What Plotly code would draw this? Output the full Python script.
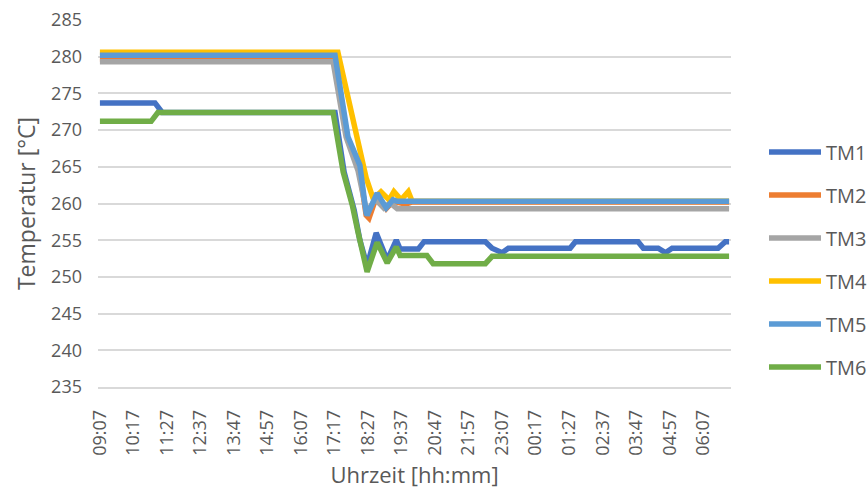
import plotly.graph_objects as go

# Category labels shown on the time axis (every 70 minutes)
tick_labels = ["09:07", "10:17", "11:27", "12:37", "13:47", "14:57", "16:07",
               "17:17", "18:27", "19:37", "20:47", "21:57", "23:07", "00:17",
               "01:27", "02:37", "03:47", "04:57", "06:07"]

series_names = ["TM1", "TM2", "TM3", "TM4", "TM5", "TM6"]
series_colors = ["#4472C4", "#ED7D31", "#A5A5A5", "#FFC000", "#5B9BD5", "#70AD47"]

# Measured temperatures (time of day, °C); the run goes past midnight
tm1_time = ["09:07", "11:02", "11:17", "17:18", "17:37", "17:58", "18:10", "18:25",
            "18:44", "19:07", "19:26", "19:34", "20:12", "20:24", "22:32", "22:46",
            "23:07", "23:20", "01:29", "01:40", "03:51", "04:02", "04:33", "04:48",
            "05:02", "06:38", "06:53", "07:01"]
tm1_temp = [273.7, 273.7, 272.4, 272.4, 264.3, 259.1, 255.0, 251.5,
            256.0, 252.3, 255.0, 253.8, 253.8, 254.8, 254.8, 253.9,
            253.3, 253.9, 253.9, 254.8, 254.8, 253.9, 253.9, 253.3,
            253.9, 253.9, 254.8, 254.8]

tm2_time = ["09:07", "17:16", "17:43", "18:08", "18:23", "18:29", "18:46", "19:05",
            "19:19", "19:46", "19:59", "07:01"]
tm2_temp = [279.7, 279.7, 269.1, 265.2, 258.4, 258.0, 261.2, 259.3,
            260.3, 259.9, 260.2, 260.2]

tm3_time = ["09:07", "17:14", "17:41", "18:06", "18:21", "18:27", "18:42", "19:00",
            "19:13", "19:28", "07:01"]
tm3_temp = [279.3, 279.3, 269.1, 264.5, 259.8, 259.0, 260.6, 259.4,
            260.1, 259.3, 259.3]

tm4_time = ["09:07", "17:24", "18:23", "18:38", "18:54", "19:11", "19:21", "19:36",
            "19:51", "19:59", "07:01"]
tm4_temp = [280.6, 280.6, 263.5, 260.6, 261.6, 260.5, 261.6, 260.5,
            261.6, 260.3, 260.3]

tm5_time = ["09:07", "17:18", "17:45", "18:10", "18:23", "18:25", "18:46", "19:05",
            "19:19", "19:28", "07:01"]
tm5_temp = [280.2, 280.2, 269.1, 265.2, 258.7, 258.4, 261.4, 259.4,
            260.5, 260.3, 260.3]

tm6_time = ["09:07", "10:54", "11:08", "17:14", "17:35", "17:54", "18:06", "18:25",
            "18:46", "19:07", "19:26", "19:34", "20:30", "20:43", "22:32", "22:46",
            "07:01"]
tm6_temp = [271.2, 271.2, 272.4, 272.4, 264.3, 259.8, 256.1, 250.7,
            254.7, 251.9, 254.1, 252.9, 252.9, 251.8, 251.8, 252.8,
            252.8]

series_times = [tm1_time, tm2_time, tm3_time, tm4_time, tm5_time, tm6_time]
series_temps = [tm1_temp, tm2_temp, tm3_temp, tm4_temp, tm5_temp, tm6_temp]

START = 9 * 60 + 7


def elapsed(hhmm):
    """Minutes since the 09:07 start, wrapping past midnight."""
    h, m = map(int, hhmm.split(":"))
    v = h * 60 + m - START
    return v if v >= 0 else v + 1440


TEXT = "#595959"
GRID = "#D9D9D9"
FONT = "Open Sans"
LINE_W = 5.5

fig = go.Figure()
for name, color, times, temps in zip(series_names, series_colors, series_times, series_temps):
    fig.add_trace(go.Scatter(
        x=[elapsed(t) for t in times], y=temps, mode="lines", name=name,
        line=dict(color=color, width=LINE_W),
        text=times,
        hovertemplate="%{text}<br>%{y:.1f} °C<extra>" + name + "</extra>",
        showlegend=False,
    ))

# Plot area in pixels (used for the legend drawn at the right)
W, H = 867, 489
L, R, T, B = 98, 136, 20, 102
pw, ph = W - L - R, H - T - B


def px_x(x):
    return (x - L) / pw


def px_y(y):
    return (H - B - y) / ph


legend_y = [152, 195, 238, 281, 324, 367]
shapes, annotations = [], []
for name, color, ly in zip(series_names, series_colors, legend_y):
    shapes.append(dict(type="line", xref="paper", yref="paper",
                       x0=px_x(769), x1=px_x(821), y0=px_y(ly), y1=px_y(ly),
                       line=dict(color=color, width=LINE_W)))
    annotations.append(dict(xref="paper", yref="paper", x=px_x(824), y=px_y(ly),
                            text=name, showarrow=False, xanchor="left", yanchor="middle",
                            font=dict(family=FONT, size=20, color=TEXT)))

fig.update_layout(
    width=W, height=H,
    margin=dict(l=L, r=R, t=T, b=B, autoexpand=False),
    paper_bgcolor="white", plot_bgcolor="white",
    font=dict(family=FONT, color=TEXT),
    shapes=shapes, annotations=annotations,
    showlegend=False,
)

fig.update_xaxes(
    range=[-4, 1318],
    tickmode="array",
    tickvals=[elapsed(t) for t in tick_labels],
    ticktext=tick_labels,
    tickangle=-90,
    tickfont=dict(family=FONT, size=18, color=TEXT),
    ticklabelstandoff=14,
    showgrid=False, zeroline=False,
    showline=True, linecolor=GRID, linewidth=1.5,
    title=dict(text="Uhrzeit [hh:mm]", font=dict(family=FONT, size=22, color=TEXT), standoff=18),
)

fig.update_yaxes(
    range=[235, 285], dtick=5, tick0=235,
    tickfont=dict(family=FONT, size=18, color=TEXT),
    ticklabelstandoff=15,
    showgrid=True, gridcolor=GRID, gridwidth=1.5,
    zeroline=False, showline=False,
    title=dict(text="Temperatur [°C]", font=dict(family=FONT, size=23, color=TEXT), standoff=9),
)

fig.write_html("out.html")
